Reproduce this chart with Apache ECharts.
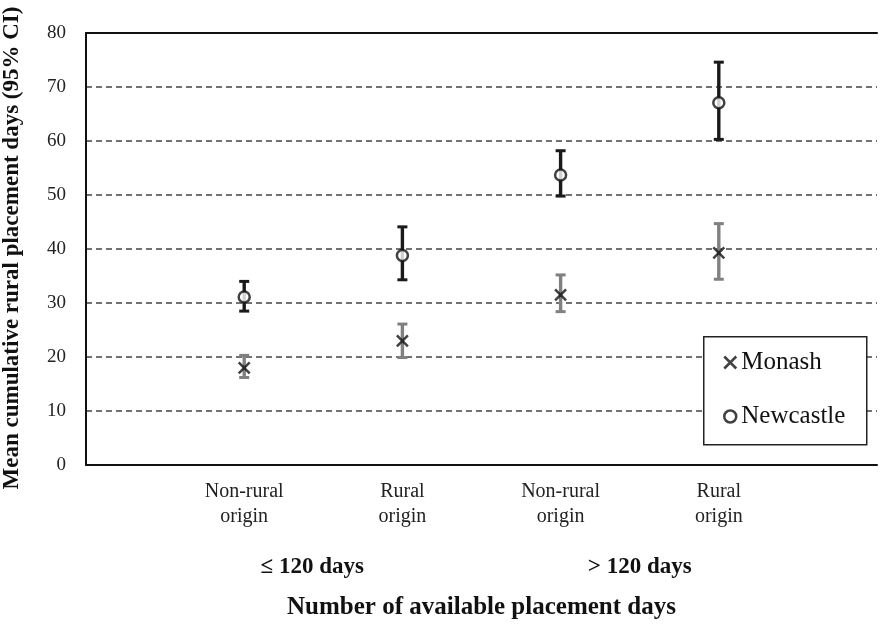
<!DOCTYPE html>
<html>
<head>
<meta charset="utf-8">
<script src="https://cdn.jsdelivr.net/npm/echarts@6/dist/echarts.min.js"></script>
<style>html,body{margin:0;padding:0;background:#fff;}#c{width:880px;height:625px;}</style>
</head>
<body>
<div id="c"></div>
<script>
const categories = ['Non-rural\norigin', 'Rural\norigin', 'Non-rural\norigin', 'Rural\norigin'];
const groupLabels = ['≤ 120 days', '> 120 days'];
const groupCenters = [1.43, 3.5];
const monashMean = [18.0, 23.0, 31.5, 39.3];
const monashLow = [16.2, 19.9, 28.4, 34.4];
const monashHigh = [20.3, 26.1, 35.2, 44.7];
const newcastleMean = [31.1, 38.8, 53.7, 67.1];
const newcastleLow = [28.5, 34.3, 49.8, 60.3];
const newcastleHigh = [34.0, 44.1, 58.2, 74.6];
const yTicks = [0, 10, 20, 30, 40, 50, 60, 70, 80];

const FONT = 'Liberation Serif';
const xPos = categories.map((c, i) => i + 1);

function errorBarRender(color) {
  return function (params, api) {
    const x = api.value(0), lo = api.value(1), hi = api.value(2);
    const pLo = api.coord([x, lo]), pHi = api.coord([x, hi]);
    const capW = 5;
    const style = { stroke: color, lineWidth: 3.4 };
    const capStyle = { stroke: color, lineWidth: 3 };
    return {
      type: 'group', children: [
        { type: 'line', shape: { x1: pLo[0], y1: pLo[1], x2: pHi[0], y2: pHi[1] }, style: style },
        { type: 'line', shape: { x1: pLo[0] - capW, y1: pLo[1], x2: pLo[0] + capW, y2: pLo[1] }, style: capStyle },
        { type: 'line', shape: { x1: pHi[0] - capW, y1: pHi[1], x2: pHi[0] + capW, y2: pHi[1] }, style: capStyle }
      ]
    };
  };
}

const chart = echarts.init(document.getElementById('c'), null, { renderer: 'canvas' });
chart.setOption({
  animation: false,
  backgroundColor: '#fff',
  grid: { left: 86, right: -11, top: 33, bottom: 159, containLabel: false },
  xAxis: [
    {
      type: 'value', min: 0, max: 5, interval: 1, position: 'bottom',
      axisLine: { show: true, lineStyle: { color: '#111', width: 2 } },
      axisTick: { show: false }, splitLine: { show: false },
      axisLabel: {
        margin: 14, fontFamily: FONT, fontSize: 20, color: '#222', lineHeight: 25,
        formatter: v => (Number.isInteger(v) && v >= 1 && v <= categories.length) ? categories[v - 1] : ''
      },
      name: 'Number of available placement days', nameLocation: 'middle', nameGap: 130,
      nameTextStyle: { fontFamily: FONT, fontSize: 25, fontWeight: 'bold', color: '#111' }
    },
    {
      type: 'value', min: 0, max: 5, position: 'bottom',
      axisLine: { show: false }, axisTick: { show: false }, splitLine: { show: false },
      axisLabel: {
        customValues: groupCenters,
        margin: 91, fontFamily: FONT, fontSize: 23, fontWeight: 'bold', color: '#111',
        formatter: v => {
          const k = groupCenters.findIndex(g => Math.abs(g - v) < 1e-6);
          return k >= 0 ? groupLabels[k] : '';
        }
      }
    },
    {
      type: 'value', min: 0, max: 5, position: 'top',
      axisLine: { show: true, lineStyle: { color: '#111', width: 2 } },
      axisTick: { show: false }, axisLabel: { show: false }, splitLine: { show: false }
    }
  ],
  yAxis: {
    type: 'value', min: yTicks[0], max: yTicks[yTicks.length - 1], interval: 10,
    axisLine: { show: true, lineStyle: { color: '#111', width: 2 } },
    axisTick: { show: false },
    axisLabel: { margin: 20, fontFamily: FONT, fontSize: 19, color: '#222' },
    splitLine: { show: true, lineStyle: { color: '#444', width: 1.5, type: [6, 4] } }
  },
  legend: {
    orient: 'vertical', left: 723, top: 350, itemGap: 29, z: 20, padding: 0,
    itemWidth: 12, itemHeight: 12, itemStyle: { borderWidth: 2.5 },
    textStyle: { fontFamily: FONT, fontSize: 25, color: '#111' },
    data: ['Monash', 'Newcastle']
  },
  graphic: [
    {
      type: 'rect', z: 10, left: 703, top: 336,
      shape: { width: 163, height: 108 },
      style: { fill: '#fff', stroke: '#222', lineWidth: 1.5 }
    },
    {
      type: 'text', z: 10, x: 12, y: 248, rotation: Math.PI / 2,
      style: {
        text: 'Mean cumulative rural placement days (95% CI)', fontFamily: FONT, fontSize: 23,
        fontWeight: 'bold', fill: '#111', textAlign: 'center', textVerticalAlign: 'middle'
      }
    }
  ],
  series: [
    {
      type: 'custom', name: 'Monash CI', renderItem: errorBarRender('#808080'),
      data: xPos.map((x, i) => [x, monashLow[i], monashHigh[i]]), z: 2
    },
    {
      type: 'custom', name: 'Newcastle CI', renderItem: errorBarRender('#1a1a1a'),
      data: xPos.map((x, i) => [x, newcastleLow[i], newcastleHigh[i]]), z: 2
    },
    {
      type: 'scatter', name: 'Monash', symbol: 'path://M0,0L10,10M10,0L0,10', symbolSize: 11, z: 5,
      itemStyle: { color: '#111', borderColor: '#111', borderWidth: 2.5 },
      data: xPos.map((x, i) => [x, monashMean[i]])
    },
    {
      type: 'scatter', name: 'Newcastle', symbol: 'circle', symbolSize: 11, z: 5,
      itemStyle: { color: '#fff', borderColor: '#111', borderWidth: 2.5 },
      data: xPos.map((x, i) => [x, newcastleMean[i]])
    }
  ]
});
</script>
</body>
</html>
